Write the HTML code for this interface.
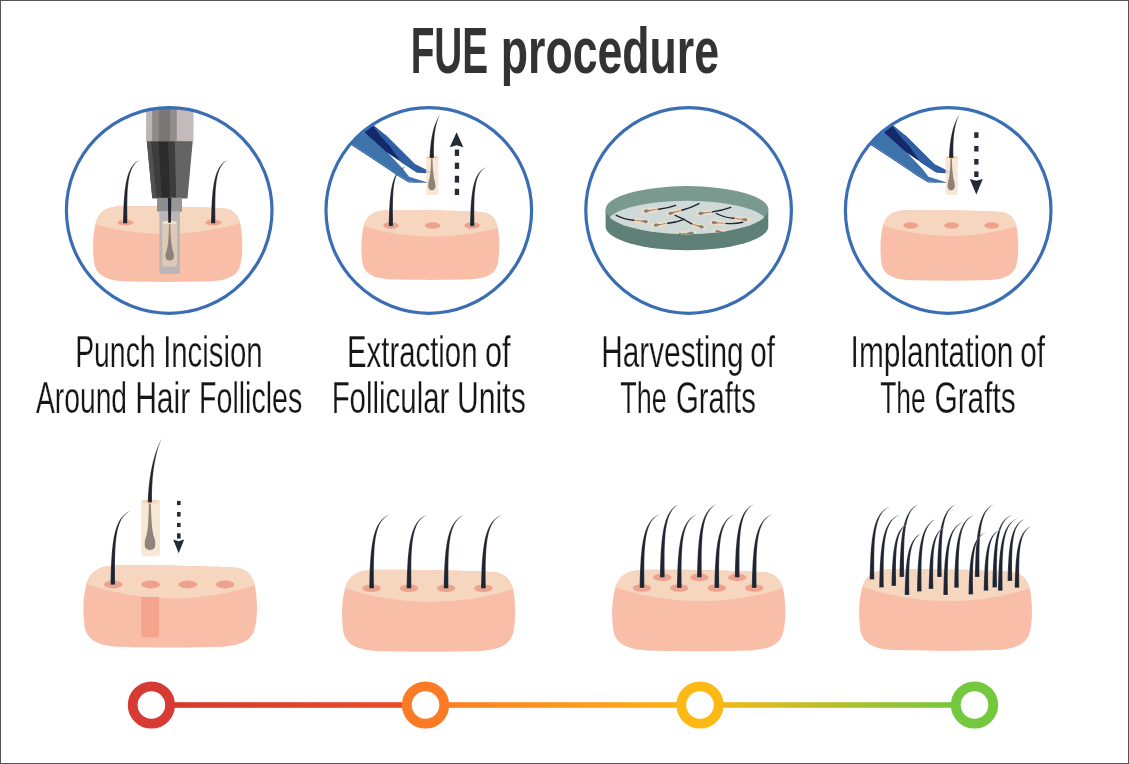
<!DOCTYPE html>
<html><head><meta charset="utf-8"><title>FUE procedure</title>
<style>
html,body{margin:0;padding:0;background:#fff;}
body{width:1129px;height:764px;overflow:hidden;position:relative;font-family:"Liberation Sans",sans-serif;}
.frame{position:absolute;left:0;top:0;width:1127px;height:762px;border:1px solid #555555;}
svg{position:absolute;left:0;top:0;}
</style></head><body>
<svg width="1129" height="764" viewBox="0 0 1129 764"><defs><clipPath id="cc0"><circle cx="169.2" cy="210.5" r="102.8"/></clipPath><clipPath id="cc1"><circle cx="428.8" cy="210.5" r="102.8"/></clipPath><clipPath id="cc2"><circle cx="688.6" cy="210.5" r="102.8"/></clipPath><clipPath id="cc3"><circle cx="948.2" cy="210.5" r="102.8"/></clipPath><clipPath id="blk1"><path d="M 121.3,206.3 C 160.3,205.85 205.3,207.21 224.8,208.57 C 231.55,209.33 238.3,213.87 240.55,225.23 C 242.5,236.58 243.1,251.72 240.55,263.83 C 238.3,274.43 230.8,279.73 212.8,281.24 C 182.8,282.23 145.3,282 122.8,281.24 C 104.8,280.11 95.8,274.43 94,262.32 C 92.35,247.94 92.8,235.07 95.8,222.95 C 98.8,210.84 107.8,206.53 121.3,206.3 Z"/></clipPath><clipPath id="blk2"><path d="M 387.45,210.2 C 423.52,209.78 465.12,211.04 483.16,212.29 C 489.4,212.99 495.64,217.18 497.72,227.65 C 499.52,238.12 500.08,252.08 497.72,263.25 C 495.64,273.02 488.7,277.91 472.06,279.3 C 444.32,280.21 409.65,280 388.84,279.3 C 372.2,278.25 363.87,273.02 362.21,261.85 C 360.68,248.59 361.1,236.72 363.87,225.56 C 366.65,214.39 374.97,210.41 387.45,210.2 Z"/></clipPath><clipPath id="dtop"><ellipse cx="687" cy="209.8" rx="81.3" ry="24.4"/></clipPath><clipPath id="dshift"><ellipse cx="687" cy="224.3" rx="81.3" ry="23.6"/></clipPath><clipPath id="dlow"><rect x="590" y="212.3" width="200" height="40"/></clipPath><clipPath id="blk3"><path d="M 906.53,210.2 C 942.57,209.78 984.15,211.05 1002.17,212.32 C 1008.4,213.02 1014.64,217.26 1016.72,227.85 C 1018.52,238.44 1019.08,252.56 1016.72,263.86 C 1014.64,273.74 1007.71,278.68 991.08,280.09 C 963.36,281.01 928.71,280.8 907.92,280.09 C 891.29,279.04 882.97,273.74 881.31,262.44 C 879.78,249.03 880.2,237.03 882.97,225.73 C 885.74,214.44 894.06,210.41 906.53,210.2 Z"/></clipPath><clipPath id="blk4"><path d="M 116.25,565.4 C 161.62,564.91 213.98,566.39 236.66,567.87 C 244.51,568.69 252.37,573.62 254.98,585.95 C 257.25,598.28 257.95,614.72 254.98,627.87 C 252.37,639.38 243.64,645.13 222.7,646.78 C 187.8,647.85 144.18,647.6 118,646.78 C 97.06,645.55 86.59,639.38 84.5,626.23 C 82.58,610.61 83.1,596.64 86.59,583.48 C 90.08,570.33 100.55,565.65 116.25,565.4 Z"/></clipPath><clipPath id="blk5"><path d="M 374.8,569.8 C 420.09,569.31 472.35,570.78 495,572.26 C 502.83,573.08 510.67,578 513.29,590.3 C 515.55,602.6 516.25,619 513.29,632.12 C 510.67,643.6 501.96,649.34 481.06,650.98 C 446.22,652.05 402.67,651.8 376.54,650.98 C 355.64,649.75 345.18,643.6 343.09,630.48 C 341.18,614.9 341.7,600.96 345.18,587.84 C 348.67,574.72 359.12,570.05 374.8,569.8 Z"/></clipPath><clipPath id="blk6"><path d="M 644.9,569.8 C 690.19,569.31 742.45,570.78 765.1,572.25 C 772.93,573.06 780.77,577.95 783.39,590.17 C 785.65,602.4 786.35,618.7 783.39,631.74 C 780.77,643.15 772.06,648.85 751.16,650.48 C 716.32,651.54 672.77,651.3 646.64,650.48 C 625.74,649.26 615.28,643.15 613.19,630.11 C 611.28,614.62 611.8,600.77 615.28,587.73 C 618.77,574.69 629.22,570.04 644.9,569.8 Z"/></clipPath><clipPath id="blk7"><path d="M 891.82,569.3 C 937.01,568.81 989.15,570.28 1011.74,571.75 C 1019.56,572.56 1027.39,577.46 1029.99,589.7 C 1032.25,601.94 1032.95,618.26 1029.99,631.32 C 1027.39,642.74 1018.7,648.45 997.84,650.08 C 963.08,651.14 919.63,650.9 893.56,650.08 C 872.7,648.86 862.28,642.74 860.19,629.68 C 858.28,614.18 858.8,600.31 862.28,587.25 C 865.75,574.2 876.18,569.54 891.82,569.3 Z"/></clipPath><linearGradient id="tl0" gradientUnits="userSpaceOnUse" x1="171.4" y1="0" x2="405.5" y2="0"><stop offset="0" stop-color="#d5392f"/><stop offset="1" stop-color="#ea4c27"/></linearGradient><linearGradient id="tl1" gradientUnits="userSpaceOnUse" x1="445.5" y1="0" x2="680" y2="0"><stop offset="0" stop-color="#fb7e24"/><stop offset="1" stop-color="#feb116"/></linearGradient><linearGradient id="tl2" gradientUnits="userSpaceOnUse" x1="720" y1="0" x2="954.5" y2="0"><stop offset="0" stop-color="#f3b81a"/><stop offset="1" stop-color="#76c73c"/></linearGradient></defs><g><path d="M 121.3,206.3 C 160.3,205.85 205.3,207.21 224.8,208.57 C 231.55,209.33 238.3,213.87 240.55,225.23 C 242.5,236.58 243.1,251.72 240.55,263.83 C 238.3,274.43 230.8,279.73 212.8,281.24 C 182.8,282.23 145.3,282 122.8,281.24 C 104.8,280.11 95.8,274.43 94,262.32 C 92.35,247.94 92.8,235.07 95.8,222.95 C 98.8,210.84 107.8,206.53 121.3,206.3 Z" fill="#f9bea8"/><path clip-path="url(#blk1)" d="M 87.8,201.3 L 247.8,201.3 L 247.8,222.58 L 242.8,222.58 Q 167.8,244.57 92.8,224.01 L 87.8,224.01 Z" fill="#f7d6bf"/><ellipse cx="125.5" cy="222.5" rx="8" ry="3" fill="#eea28e"/><ellipse cx="213.3" cy="222.5" rx="8" ry="3" fill="#eea28e"/><path d="M127.45,223.5 L127.37,218.77 L127.31,214.25 L127.27,209.91 L127.27,205.78 L127.3,201.83 L127.38,198.07 L127.5,194.5 L127.67,191.11 L127.89,187.91 L128.17,184.88 L128.52,182.03 L128.93,179.35 L129.41,176.85 L129.96,174.51 L130.6,172.34 L131.32,170.32 L132.13,168.47 L133.04,166.76 L134.04,165.2 L135.16,163.78 L136.4,162.5 L137.76,161.36 L139.25,160.36 L140.88,159.5 L140.88,159.5 L139.16,160.2 L137.55,161.05 L136.03,162.07 L134.62,163.26 L133.31,164.62 L132.09,166.14 L130.98,167.84 L129.95,169.71 L129.02,171.75 L128.17,173.96 L127.41,176.34 L126.72,178.89 L126.11,181.62 L125.57,184.52 L125.1,187.59 L124.68,190.85 L124.32,194.28 L124.01,197.89 L123.74,201.69 L123.52,205.67 L123.33,209.84 L123.18,214.2 L123.05,218.75 L122.95,223.5Z" fill="#1e2430" stroke="#fff" stroke-opacity="0.45" stroke-width="0.5"/><path d="M215.45,223.5 L215.37,218.77 L215.31,214.25 L215.27,209.91 L215.27,205.78 L215.3,201.83 L215.38,198.07 L215.5,194.5 L215.67,191.11 L215.89,187.91 L216.17,184.88 L216.52,182.03 L216.93,179.35 L217.41,176.85 L217.96,174.51 L218.6,172.34 L219.32,170.32 L220.13,168.47 L221.04,166.76 L222.04,165.2 L223.16,163.78 L224.4,162.5 L225.76,161.36 L227.25,160.36 L228.88,159.5 L228.88,159.5 L227.16,160.2 L225.55,161.05 L224.03,162.07 L222.62,163.26 L221.31,164.62 L220.09,166.14 L218.98,167.84 L217.95,169.71 L217.02,171.75 L216.17,173.96 L215.41,176.34 L214.72,178.89 L214.11,181.62 L213.57,184.52 L213.1,187.59 L212.68,190.85 L212.32,194.28 L212.01,197.89 L211.74,201.69 L211.52,205.67 L211.33,209.84 L211.18,214.2 L211.05,218.75 L210.95,223.5Z" fill="#1e2430" stroke="#fff" stroke-opacity="0.45" stroke-width="0.5"/><g clip-path="url(#cc0)"><rect x="146.1" y="100" width="6.6" height="41.7" fill="#bdb5b5"/><rect x="152.1" y="100" width="7.4" height="41.7" fill="#8f8989"/><rect x="158.9" y="100" width="11.7" height="41.7" fill="#7a7676"/><rect x="170" y="100" width="7.3" height="41.7" fill="#918b8b"/><rect x="176.7" y="100" width="16.8" height="41.7" fill="#c3bbbb"/><path d="M 146.9,141.5 L 192.1,141.5 L 186.9,198.2 L 152.3,198.2 Z" fill="#3d3d3d"/><path d="M 146.9,141.5 L 151.6,141.5 L 157.2,198.2 L 152.3,198.2 Z" fill="#525252"/><path d="M 151,141.5 L 159.2,141.5 L 162.3,198.2 L 156.6,198.2 Z" fill="#3d3d3d"/><path d="M 158.6,141.5 L 168.6,141.5 L 170.7,198.2 L 161.7,198.2 Z" fill="#2c2c2c"/><path d="M 168,141.5 L 175.4,141.5 L 176.8,198.2 L 170.1,198.2 Z" fill="#3d3d3d"/><path d="M 174.8,141.5 L 192.7,141.5 L 187.5,198.2 L 176.2,198.2 Z" fill="#646464"/></g><rect x="157" y="197.8" width="25" height="13.8" fill="#8e8e8e"/><rect x="169.6" y="197.8" width="12.4" height="13.8" fill="#979797"/><rect x="159.4" y="211.4" width="20.6" height="62.4" fill="#bcb5b7"/><path d="M 162.2,222.5 L 177.1,222.5 L 177.1,263.5 Q 177.1,266.4 174.2,266.4 L 165.1,266.4 Q 162.2,266.4 162.2,263.5 Z" fill="#dccab7"/><ellipse cx="169.65" cy="222.6" rx="7.45" ry="1.8" fill="#f3e3c6"/><path d="M 169.0,224 L 170.4,224 Q 170.6,246 173.6,253 Q 175.2,260.4 169.7,260.6 Q 164.2,260.4 165.8,253 Q 168.8,246 169.0,224 Z" fill="#8f8379"/><path d="M 167.9,198 L 171.3,198 L 170.9,222.8 L 168.3,222.8 Z" fill="#1e2430"/></g><path d="M 387.45,210.2 C 423.52,209.78 465.12,211.04 483.16,212.29 C 489.4,212.99 495.64,217.18 497.72,227.65 C 499.52,238.12 500.08,252.08 497.72,263.25 C 495.64,273.02 488.7,277.91 472.06,279.3 C 444.32,280.21 409.65,280 388.84,279.3 C 372.2,278.25 363.87,273.02 362.21,261.85 C 360.68,248.59 361.1,236.72 363.87,225.56 C 366.65,214.39 374.97,210.41 387.45,210.2 Z" fill="#f9bea8"/><path clip-path="url(#blk2)" d="M 356.1,205.2 L 504.8,205.2 L 504.8,227.16 L 499.8,227.16 Q 430.45,246.88 361.1,225.42 L 356.1,225.42 Z" fill="#f7d6bf"/><ellipse cx="390.9" cy="225.5" rx="7.7" ry="3.3" fill="#eea28e"/><ellipse cx="432.6" cy="225.5" rx="7.7" ry="3.3" fill="#eea28e"/><ellipse cx="472.2" cy="225.5" rx="7.7" ry="3.3" fill="#eea28e"/><path d="M393.15,226.2 L393.06,222.01 L392.99,217.99 L392.94,214.15 L392.91,210.48 L392.9,206.98 L392.93,203.65 L392.98,200.47 L393.07,197.47 L393.2,194.62 L393.37,191.93 L393.58,189.4 L393.84,187.02 L394.15,184.79 L394.51,182.71 L394.93,180.77 L395.4,178.98 L395.94,177.32 L396.55,175.8 L397.23,174.4 L397.99,173.13 L398.83,171.99 L399.76,170.96 L400.78,170.04 L401.91,169.24 L401.91,169.24 L400.68,169.89 L399.51,170.67 L398.41,171.6 L397.39,172.68 L396.44,173.91 L395.55,175.28 L394.74,176.81 L393.99,178.48 L393.31,180.3 L392.68,182.27 L392.12,184.38 L391.62,186.65 L391.16,189.07 L390.76,191.65 L390.4,194.38 L390.08,197.26 L389.8,200.3 L389.55,203.51 L389.34,206.87 L389.16,210.4 L389,214.1 L388.87,217.96 L388.75,221.99 L388.65,226.2Z" fill="#1e2430" stroke="#fff" stroke-opacity="0.45" stroke-width="0.5"/><path d="M474.45,226.2 L474.37,221.84 L474.3,217.66 L474.26,213.67 L474.26,209.85 L474.28,206.21 L474.34,202.74 L474.45,199.45 L474.6,196.32 L474.8,193.37 L475.05,190.58 L475.36,187.95 L475.74,185.48 L476.18,183.17 L476.69,181.01 L477.27,179 L477.93,177.15 L478.68,175.43 L479.51,173.85 L480.44,172.41 L481.48,171.09 L482.62,169.9 L483.88,168.84 L485.27,167.91 L486.78,167.1 L486.78,167.1 L485.18,167.74 L483.67,168.53 L482.26,169.47 L480.94,170.57 L479.71,171.82 L478.57,173.23 L477.52,174.8 L476.56,176.53 L475.69,178.41 L474.9,180.46 L474.18,182.66 L473.54,185.02 L472.96,187.53 L472.45,190.21 L472,193.05 L471.61,196.06 L471.27,199.23 L470.97,202.57 L470.72,206.07 L470.51,209.75 L470.33,213.6 L470.18,217.62 L470.05,221.82 L469.95,226.2Z" fill="#1e2430" stroke="#fff" stroke-opacity="0.45" stroke-width="0.5"/><g transform="translate(0,0)"><g clip-path="url(#cc1)"><path d="M 340,150 L 364.6,132.4 L 386.9,152 L 402.7,168.6 L 409.1,176.8 L 429.2,182.9 L 408.6,181.6 L 396.8,173.9 L 390.8,169.7 L 364,152 L 350,143 Z" fill="#3e72ab"/><path d="M 350,143 L 364,152 L 390.8,169.7 L 396.8,173.9 L 408.6,181.6 L 429.2,182.9 L 408.6,182.6 L 396.3,175 L 390.3,170.7 L 363.5,153 L 350,144.2 Z" fill="#2a5c9c"/><path d="M 350,105.8 L 385.5,135 L 415,164.4 L 426.2,170 L 437.4,173.6 L 426.2,172.7 L 416.8,172.1 L 400.7,161.6 L 386.5,152 L 364.6,132.4 L 350,120 Z" fill="#2f5ea3"/><path d="M 350,110 L 364.6,132.4 L 386.5,152 L 400.7,161.6 L 390.1,146.5 L 379.6,135 L 373.1,125.9 L 356,104 Z" fill="#13296b"/><path d="M 400.7,161.6 L 416.8,172.1 L 426.2,172.7" fill="none" stroke="#1b4690" stroke-width="0.9"/><path d="M 385.5,135 L 415,164.4 L 426.2,170" fill="none" stroke="#1f4f98" stroke-width="0.7"/></g><rect x="426.2" y="156.5" width="12.3" height="38.5" rx="2.2" fill="#f7e3cd" fill-opacity="0.85"/><ellipse cx="432.35" cy="157.4" rx="6.1" ry="1.5" fill="#f1d3b2"/><path d="M 431.1,158.5 L 432.5,158.5 Q 432.8,176 435.0,182 Q 436.8,190.2 431.8,190.4 Q 426.8,190.2 428.6,182 Q 430.8,176 431.1,158.5 Z" fill="#8d8379"/></g><path d="M434.05,158 L433.97,155.42 L433.92,152.91 L433.91,150.48 L433.92,148.12 L433.96,145.84 L434.03,143.62 L434.13,141.48 L434.26,139.4 L434.42,137.4 L434.61,135.45 L434.82,133.57 L435.07,131.76 L435.34,130 L435.64,128.3 L435.96,126.66 L436.32,125.08 L436.7,123.55 L437.1,122.07 L437.54,120.65 L438,119.27 L438.49,117.94 L439,116.66 L439.54,115.42 L440.11,114.22 L440.11,114.22 L439.38,115.33 L438.67,116.49 L437.97,117.7 L437.31,118.97 L436.66,120.3 L436.04,121.69 L435.45,123.14 L434.88,124.65 L434.33,126.22 L433.82,127.86 L433.32,129.56 L432.86,131.32 L432.42,133.15 L432.02,135.05 L431.64,137.02 L431.28,139.06 L430.96,141.16 L430.67,143.34 L430.41,145.6 L430.17,147.92 L429.97,150.33 L429.8,152.81 L429.66,155.36 L429.55,158Z" fill="#1e2430" stroke="#fff" stroke-opacity="0.45" stroke-width="0.5"/><g fill="#232b38"><path d="M 449.8,147.2 L 456.6,132.3 L 463.4,147.2 L 456.6,145.3 Z"/><rect x="454.8" y="149.5" width="4.3" height="6.4"/><rect x="454.8" y="162.7" width="4.3" height="6.2"/><rect x="454.8" y="175.8" width="4.3" height="6.8"/><rect x="454.8" y="188.8" width="4.3" height="6.2"/></g><path d="M 402.2,169.2 L 404.2,167.2" stroke="#1e2430" stroke-width="0.8" stroke-linecap="round"/><path d="M 605.6,209.5 L 605.6,226.5 A 81.3 23.7 0 0 0 768.3,226.5 L 768.3,209.5 Z" fill="#5e8076"/><ellipse cx="687" cy="209.5" rx="81.4" ry="23.4" fill="#7a998f"/><g clip-path="url(#dtop)"><ellipse cx="687" cy="224.3" rx="81.3" ry="23.6" fill="#cfdad8"/></g><g clip-path="url(#dtop)"><g clip-path="url(#dshift)"><g transform="translate(643.01 211.44) rotate(-8.3)"><rect x="-1.2" y="-2.5" width="16.75" height="5" rx="1.6" fill="#f0dcc4"/><path d="M 0.9,0 C 0.9,-1.9 3.4,-1.8 4.6,-1.2 Q 6.0,-0.5 8.0,-0.45 L 14.05,-0.4 L 14.05,0.4 L 8.0,0.45 Q 6.0,0.5 4.6,1.2 C 3.4,1.8 0.9,1.9 0.9,0 Z" fill="#8a7f75"/><rect x="14.25" y="-2.5" width="1.1" height="5" fill="#f2c9a2"/></g><path d="M 658.4,209.2 Q 668,208.2 675.6,205.3" stroke="#1e2430" stroke-width="1.4" fill="none" stroke-linecap="round"/><g transform="translate(667.63 214.06) rotate(-15.15)"><rect x="-1.2" y="-2.5" width="15.98" height="5" rx="1.6" fill="#f0dcc4"/><path d="M 0.9,0 C 0.9,-1.9 3.4,-1.8 4.6,-1.2 Q 6.0,-0.5 8.0,-0.45 L 13.28,-0.4 L 13.28,0.4 L 8.0,0.45 Q 6.0,0.5 4.6,1.2 C 3.4,1.8 0.9,1.9 0.9,0 Z" fill="#8a7f75"/><rect x="13.48" y="-2.5" width="1.1" height="5" fill="#f2c9a2"/></g><path d="M 681.9,210.2 Q 691,207.8 699,203.6" stroke="#1e2430" stroke-width="1.4" fill="none" stroke-linecap="round"/><g transform="translate(697.61 213.83) rotate(-7.43)"><rect x="-1.2" y="-2.5" width="16.12" height="5" rx="1.6" fill="#f0dcc4"/><path d="M 0.9,0 C 0.9,-1.9 3.4,-1.8 4.6,-1.2 Q 6.0,-0.5 8.0,-0.45 L 13.42,-0.4 L 13.42,0.4 L 8.0,0.45 Q 6.0,0.5 4.6,1.2 C 3.4,1.8 0.9,1.9 0.9,0 Z" fill="#8a7f75"/><rect x="13.62" y="-2.5" width="1.1" height="5" fill="#f2c9a2"/></g><path d="M 712.4,211.9 Q 722,210.6 730.8,207.4" stroke="#1e2430" stroke-width="1.4" fill="none" stroke-linecap="round"/><g transform="translate(648.59 221.92) rotate(-173.34)"><rect x="-1.2" y="-2.5" width="15.99" height="5" rx="1.6" fill="#f0dcc4"/><path d="M 0.9,0 C 0.9,-1.9 3.4,-1.8 4.6,-1.2 Q 6.0,-0.5 8.0,-0.45 L 13.29,-0.4 L 13.29,0.4 L 8.0,0.45 Q 6.0,0.5 4.6,1.2 C 3.4,1.8 0.9,1.9 0.9,0 Z" fill="#8a7f75"/><rect x="13.49" y="-2.5" width="1.1" height="5" fill="#f2c9a2"/></g><path d="M 633.9,220.2 Q 624,219.2 616.2,215.3" stroke="#1e2430" stroke-width="1.4" fill="none" stroke-linecap="round"/><g transform="translate(653.01 225.67) rotate(-9.53)"><rect x="-1.2" y="-2.5" width="16.09" height="5" rx="1.6" fill="#f0dcc4"/><path d="M 0.9,0 C 0.9,-1.9 3.4,-1.8 4.6,-1.2 Q 6.0,-0.5 8.0,-0.45 L 13.39,-0.4 L 13.39,0.4 L 8.0,0.45 Q 6.0,0.5 4.6,1.2 C 3.4,1.8 0.9,1.9 0.9,0 Z" fill="#8a7f75"/><rect x="13.59" y="-2.5" width="1.1" height="5" fill="#f2c9a2"/></g><path d="M 667.7,223.2 Q 676,222.4 684.4,219.3" stroke="#1e2430" stroke-width="1.4" fill="none" stroke-linecap="round"/><g transform="translate(704.46 227.79) rotate(-163.03)"><rect x="-1.2" y="-2.5" width="14.54" height="5" rx="1.6" fill="#f0dcc4"/><path d="M 0.9,0 C 0.9,-1.9 3.4,-1.8 4.6,-1.2 Q 6.0,-0.5 8.0,-0.45 L 11.84,-0.4 L 11.84,0.4 L 8.0,0.45 Q 6.0,0.5 4.6,1.2 C 3.4,1.8 0.9,1.9 0.9,0 Z" fill="#8a7f75"/><rect x="12.04" y="-2.5" width="1.1" height="5" fill="#f2c9a2"/></g><path d="M 691.7,223.9 Q 683,218.3 675.1,215.3" stroke="#1e2430" stroke-width="1.4" fill="none" stroke-linecap="round"/><g transform="translate(748.29 220.13) rotate(-172.72)"><rect x="-1.2" y="-2.5" width="15.61" height="5" rx="1.6" fill="#f0dcc4"/><path d="M 0.9,0 C 0.9,-1.9 3.4,-1.8 4.6,-1.2 Q 6.0,-0.5 8.0,-0.45 L 12.91,-0.4 L 12.91,0.4 L 8.0,0.45 Q 6.0,0.5 4.6,1.2 C 3.4,1.8 0.9,1.9 0.9,0 Z" fill="#8a7f75"/><rect x="13.11" y="-2.5" width="1.1" height="5" fill="#f2c9a2"/></g><path d="M 734,218.3 Q 724,217.6 716.4,213.5" stroke="#1e2430" stroke-width="1.4" fill="none" stroke-linecap="round"/><g transform="translate(711 222.33) rotate(4.09)"><rect x="-1.2" y="-2.5" width="16.24" height="5" rx="1.6" fill="#f0dcc4"/><path d="M 0.9,0 C 0.9,-1.9 3.4,-1.8 4.6,-1.2 Q 6.0,-0.5 8.0,-0.45 L 13.54,-0.4 L 13.54,0.4 L 8.0,0.45 Q 6.0,0.5 4.6,1.2 C 3.4,1.8 0.9,1.9 0.9,0 Z" fill="#8a7f75"/><rect x="13.74" y="-2.5" width="1.1" height="5" fill="#f2c9a2"/></g><path d="M 726,223.4 Q 735,224.2 742.7,222.3" stroke="#1e2430" stroke-width="1.4" fill="none" stroke-linecap="round"/><g transform="translate(694.5 233.17) rotate(178.3)"><rect x="-1.2" y="-2.5" width="15.71" height="5" rx="1.6" fill="#f0dcc4"/><path d="M 0.9,0 C 0.9,-1.9 3.4,-1.8 4.6,-1.2 Q 6.0,-0.5 8.0,-0.45 L 13.01,-0.4 L 13.01,0.4 L 8.0,0.45 Q 6.0,0.5 4.6,1.2 C 3.4,1.8 0.9,1.9 0.9,0 Z" fill="#8a7f75"/><rect x="13.21" y="-2.5" width="1.1" height="5" fill="#f2c9a2"/></g><path d="M 680,233.6 Q 680,233.6 680,233.6" stroke="#1e2430" stroke-width="1.4" fill="none" stroke-linecap="round"/><g transform="translate(714.5 231.41) rotate(5.03)"><rect x="-1.2" y="-2.5" width="14.75" height="5" rx="1.6" fill="#f0dcc4"/><path d="M 0.9,0 C 0.9,-1.9 3.4,-1.8 4.6,-1.2 Q 6.0,-0.5 8.0,-0.45 L 12.05,-0.4 L 12.05,0.4 L 8.0,0.45 Q 6.0,0.5 4.6,1.2 C 3.4,1.8 0.9,1.9 0.9,0 Z" fill="#8a7f75"/><rect x="12.25" y="-2.5" width="1.1" height="5" fill="#f2c9a2"/></g><path d="M 728,232.6 Q 728,232.6 728,232.6" stroke="#1e2430" stroke-width="1.4" fill="none" stroke-linecap="round"/></g></g><path d="M 906.53,210.2 C 942.57,209.78 984.15,211.05 1002.17,212.32 C 1008.4,213.02 1014.64,217.26 1016.72,227.85 C 1018.52,238.44 1019.08,252.56 1016.72,263.86 C 1014.64,273.74 1007.71,278.68 991.08,280.09 C 963.36,281.01 928.71,280.8 907.92,280.09 C 891.29,279.04 882.97,273.74 881.31,262.44 C 879.78,249.03 880.2,237.03 882.97,225.73 C 885.74,214.44 894.06,210.41 906.53,210.2 Z" fill="#f9bea8"/><path clip-path="url(#blk3)" d="M 875.2,205.2 L 1023.8,205.2 L 1023.8,225.52 L 1018.8,225.52 Q 949.5,247.05 880.2,224.81 L 875.2,224.81 Z" fill="#f7d6bf"/><ellipse cx="910.7" cy="225.5" rx="7.4" ry="3.2" fill="#eea28e"/><ellipse cx="951.5" cy="225.5" rx="7.4" ry="3.2" fill="#eea28e"/><ellipse cx="991.6" cy="225.5" rx="7.4" ry="3.2" fill="#eea28e"/><g transform="translate(519.4,0)"><g clip-path="url(#cc1)"><path d="M 340,150 L 364.6,132.4 L 386.9,152 L 402.7,168.6 L 409.1,176.8 L 429.2,182.9 L 408.6,181.6 L 396.8,173.9 L 390.8,169.7 L 364,152 L 350,143 Z" fill="#3e72ab"/><path d="M 350,143 L 364,152 L 390.8,169.7 L 396.8,173.9 L 408.6,181.6 L 429.2,182.9 L 408.6,182.6 L 396.3,175 L 390.3,170.7 L 363.5,153 L 350,144.2 Z" fill="#2a5c9c"/><path d="M 350,105.8 L 385.5,135 L 415,164.4 L 426.2,170 L 437.4,173.6 L 426.2,172.7 L 416.8,172.1 L 400.7,161.6 L 386.5,152 L 364.6,132.4 L 350,120 Z" fill="#2f5ea3"/><path d="M 350,110 L 364.6,132.4 L 386.5,152 L 400.7,161.6 L 390.1,146.5 L 379.6,135 L 373.1,125.9 L 356,104 Z" fill="#13296b"/><path d="M 400.7,161.6 L 416.8,172.1 L 426.2,172.7" fill="none" stroke="#1b4690" stroke-width="0.9"/><path d="M 385.5,135 L 415,164.4 L 426.2,170" fill="none" stroke="#1f4f98" stroke-width="0.7"/></g><rect x="426.2" y="156.5" width="12.3" height="38.5" rx="2.2" fill="#f7e3cd" fill-opacity="0.85"/><ellipse cx="432.35" cy="157.4" rx="6.1" ry="1.5" fill="#f1d3b2"/><path d="M 431.1,158.5 L 432.5,158.5 Q 432.8,176 435.0,182 Q 436.8,190.2 431.8,190.4 Q 426.8,190.2 428.6,182 Q 430.8,176 431.1,158.5 Z" fill="#8d8379"/></g><path d="M953.45,158 L953.37,155.42 L953.32,152.91 L953.31,150.48 L953.32,148.12 L953.36,145.84 L953.43,143.62 L953.53,141.48 L953.66,139.4 L953.82,137.4 L954.01,135.45 L954.22,133.57 L954.47,131.76 L954.74,130 L955.04,128.3 L955.36,126.66 L955.72,125.08 L956.1,123.55 L956.5,122.07 L956.94,120.65 L957.4,119.27 L957.89,117.94 L958.4,116.66 L958.94,115.42 L959.51,114.22 L959.51,114.22 L958.78,115.33 L958.07,116.49 L957.37,117.7 L956.71,118.97 L956.06,120.3 L955.44,121.69 L954.85,123.14 L954.28,124.65 L953.73,126.22 L953.22,127.86 L952.72,129.56 L952.26,131.32 L951.82,133.15 L951.42,135.05 L951.04,137.02 L950.68,139.06 L950.36,141.16 L950.07,143.34 L949.81,145.6 L949.57,147.92 L949.37,150.33 L949.2,152.81 L949.06,155.36 L948.95,158Z" fill="#1e2430" stroke="#fff" stroke-opacity="0.45" stroke-width="0.5"/><g fill="#232b38"><path d="M 969.8,178.9 L 976.3,180.8 L 982.8,178.9 L 976.3,194.4 Z"/><rect x="974.2" y="132.3" width="4.3" height="5.6"/><rect x="974.2" y="146" width="4.3" height="5.5"/><rect x="974.2" y="159" width="4.3" height="5.6"/><rect x="974.2" y="171.4" width="4.3" height="5.6"/></g><circle cx="169.2" cy="210.5" r="102.8" fill="none" stroke="#3a6db3" stroke-width="3.2"/><circle cx="428.8" cy="210.5" r="102.8" fill="none" stroke="#3a6db3" stroke-width="3.2"/><circle cx="688.6" cy="210.5" r="102.8" fill="none" stroke="#3a6db3" stroke-width="3.2"/><circle cx="948.2" cy="210.5" r="102.8" fill="none" stroke="#3a6db3" stroke-width="3.2"/><path d="M 116.25,565.4 C 161.62,564.91 213.98,566.39 236.66,567.87 C 244.51,568.69 252.37,573.62 254.98,585.95 C 257.25,598.28 257.95,614.72 254.98,627.87 C 252.37,639.38 243.64,645.13 222.7,646.78 C 187.8,647.85 144.18,647.6 118,646.78 C 97.06,645.55 86.59,639.38 84.5,626.23 C 82.58,610.61 83.1,596.64 86.59,583.48 C 90.08,570.33 100.55,565.65 116.25,565.4 Z" fill="#f9bea8"/><path clip-path="url(#blk4)" d="M 78.1,560.4 L 262.6,560.4 L 262.6,584.8 L 257.6,584.8 Q 170.35,612.95 83.1,583.07 L 78.1,583.07 Z" fill="#f7d6bf"/><ellipse cx="113.2" cy="584.5" rx="9.3" ry="3.9" fill="#eea28e"/><ellipse cx="150.7" cy="584.5" rx="9.3" ry="3.9" fill="#eea28e"/><ellipse cx="187.8" cy="584.5" rx="9.3" ry="3.9" fill="#eea28e"/><ellipse cx="225.1" cy="584.5" rx="9.3" ry="3.9" fill="#eea28e"/><path d="M 141.1,597 L 159.1,597 L 159.1,634.5 Q 159.1,637.5 156.1,637.5 L 144.1,637.5 Q 141.1,637.5 141.1,634.5 Z" fill="#f5a48d"/><path d="M115.15,584.8 L115.06,579.33 L115,574.08 L114.98,569.07 L114.98,564.27 L115.03,559.7 L115.13,555.35 L115.28,551.21 L115.49,547.29 L115.75,543.58 L116.09,540.07 L116.49,536.77 L116.97,533.67 L117.53,530.78 L118.18,528.07 L118.92,525.56 L119.76,523.23 L120.7,521.08 L121.75,519.12 L122.91,517.32 L124.2,515.69 L125.63,514.22 L127.19,512.92 L128.91,511.78 L130.78,510.8 L130.78,510.8 L128.82,511.61 L126.97,512.6 L125.25,513.77 L123.64,515.15 L122.15,516.71 L120.76,518.48 L119.49,520.44 L118.33,522.59 L117.27,524.95 L116.31,527.5 L115.45,530.25 L114.67,533.2 L113.98,536.35 L113.37,539.7 L112.83,543.26 L112.36,547.02 L111.96,550.99 L111.61,555.17 L111.32,559.56 L111.07,564.17 L110.86,568.99 L110.7,574.04 L110.56,579.31 L110.45,584.8Z" fill="#1e2430" stroke="#fff" stroke-opacity="0.45" stroke-width="0.5"/><rect x="141.2" y="500" width="18.8" height="56.3" rx="3.2" fill="#f8e7d5"/><ellipse cx="150.6" cy="501.6" rx="9.3" ry="2.1" fill="#f2d6b7"/><path d="M 148.9,503.5 L 150.9,503.5 Q 151.4,532 154.4,538 Q 157.6,549.6 150.0,549.9 Q 142.4,549.6 145.6,538 Q 148.5,532 148.9,503.5 Z" fill="#8f8479"/><path d="M152.05,502.5 L151.99,499.03 L151.97,495.61 L152.01,492.27 L152.09,488.99 L152.22,485.77 L152.4,482.63 L152.62,479.55 L152.88,476.53 L153.19,473.59 L153.53,470.72 L153.91,467.91 L154.33,465.18 L154.79,462.52 L155.28,459.93 L155.8,457.42 L156.36,454.97 L156.94,452.61 L157.56,450.31 L158.2,448.1 L158.87,445.95 L159.57,443.89 L160.29,441.9 L161.04,439.99 L161.8,438.16 L161.8,438.16 L160.87,439.92 L159.96,441.76 L159.07,443.69 L158.2,445.71 L157.36,447.8 L156.54,449.98 L155.74,452.25 L154.98,454.59 L154.24,457.02 L153.53,459.52 L152.86,462.11 L152.22,464.77 L151.62,467.51 L151.05,470.32 L150.53,473.21 L150.04,476.18 L149.59,479.22 L149.19,482.33 L148.83,485.51 L148.52,488.77 L148.25,492.1 L148.03,495.5 L147.87,498.96 L147.75,502.5Z" fill="#1e2430" stroke="#fff" stroke-opacity="0.45" stroke-width="0.5"/><g fill="#232b38"><rect x="177.0" y="500.9" width="3.6" height="4.2"/><rect x="177.0" y="512" width="3.6" height="4.6"/><rect x="177.0" y="522.9" width="3.6" height="4.1"/><rect x="177.0" y="533.3" width="3.6" height="5.3"/><path d="M 173.2,539.6 L 178.7,541.3 L 184.2,539.6 L 178.7,553.2 Z"/></g><path d="M 374.8,569.8 C 420.09,569.31 472.35,570.78 495,572.26 C 502.83,573.08 510.67,578 513.29,590.3 C 515.55,602.6 516.25,619 513.29,632.12 C 510.67,643.6 501.96,649.34 481.06,650.98 C 446.22,652.05 402.67,651.8 376.54,650.98 C 355.64,649.75 345.18,643.6 343.09,630.48 C 341.18,614.9 341.7,600.96 345.18,587.84 C 348.67,574.72 359.12,570.05 374.8,569.8 Z" fill="#f9bea8"/><path clip-path="url(#blk5)" d="M 336.7,564.8 L 520.9,564.8 L 520.9,588.5 L 515.9,588.5 Q 428.8,616.05 341.7,587.18 L 336.7,587.18 Z" fill="#f7d6bf"/><ellipse cx="371.6" cy="588.2" rx="9.2" ry="3.8" fill="#eea28e"/><ellipse cx="409" cy="588.2" rx="9.2" ry="3.8" fill="#eea28e"/><ellipse cx="446.1" cy="588.2" rx="9.2" ry="3.8" fill="#eea28e"/><ellipse cx="483.4" cy="588.2" rx="9.2" ry="3.8" fill="#eea28e"/><path d="M374.05,588.6 L373.96,583.14 L373.89,577.91 L373.86,572.91 L373.86,568.13 L373.91,563.57 L374,559.23 L374.14,555.11 L374.33,551.2 L374.59,547.49 L374.91,544 L375.3,540.71 L375.77,537.62 L376.32,534.73 L376.95,532.03 L377.67,529.53 L378.49,527.2 L379.4,525.06 L380.43,523.1 L381.57,521.31 L382.83,519.68 L384.22,518.22 L385.76,516.92 L387.44,515.77 L389.28,514.79 L389.28,514.79 L387.34,515.59 L385.53,516.58 L383.83,517.75 L382.24,519.12 L380.76,520.68 L379.4,522.44 L378.14,524.4 L376.99,526.55 L375.94,528.9 L374.99,531.44 L374.14,534.19 L373.37,537.13 L372.68,540.27 L372.08,543.62 L371.54,547.16 L371.08,550.92 L370.67,554.88 L370.33,559.05 L370.03,563.43 L369.78,568.02 L369.57,572.84 L369.4,577.87 L369.26,583.12 L369.15,588.6Z" fill="#1e2430" stroke="#fff" stroke-opacity="0.45" stroke-width="0.5"/><path d="M411.45,588.6 L411.36,583.14 L411.3,577.91 L411.26,572.91 L411.27,568.13 L411.31,563.57 L411.41,559.23 L411.55,555.11 L411.75,551.2 L412.01,547.5 L412.34,544 L412.74,540.71 L413.22,537.63 L413.78,534.74 L414.42,532.04 L415.16,529.53 L415.99,527.21 L416.93,525.07 L417.97,523.11 L419.13,521.32 L420.42,519.69 L421.84,518.23 L423.4,516.92 L425.11,515.78 L426.98,514.8 L426.98,514.8 L425.02,515.6 L423.17,516.59 L421.44,517.76 L419.83,519.12 L418.33,520.68 L416.94,522.44 L415.67,524.4 L414.5,526.55 L413.43,528.9 L412.47,531.44 L411.6,534.18 L410.82,537.13 L410.13,540.27 L409.51,543.61 L408.97,547.16 L408.5,550.91 L408.09,554.87 L407.74,559.04 L407.44,563.43 L407.19,568.02 L406.98,572.84 L406.8,577.87 L406.66,583.12 L406.55,588.6Z" fill="#1e2430" stroke="#fff" stroke-opacity="0.45" stroke-width="0.5"/><path d="M448.55,588.6 L448.46,583.14 L448.4,577.92 L448.37,572.91 L448.37,568.13 L448.42,563.58 L448.52,559.24 L448.67,555.11 L448.88,551.2 L449.15,547.5 L449.49,544.01 L449.9,540.72 L450.39,537.63 L450.96,534.74 L451.62,532.05 L452.38,529.54 L453.23,527.22 L454.19,525.08 L455.26,523.12 L456.45,521.33 L457.76,519.7 L459.22,518.24 L460.82,516.93 L462.57,515.79 L464.49,514.81 L464.49,514.81 L462.48,515.61 L460.59,516.59 L458.83,517.76 L457.18,519.13 L455.65,520.69 L454.24,522.44 L452.94,524.39 L451.74,526.54 L450.66,528.89 L449.67,531.44 L448.79,534.18 L447.99,537.12 L447.28,540.27 L446.66,543.61 L446.11,547.16 L445.62,550.91 L445.21,554.87 L444.85,559.04 L444.55,563.42 L444.29,568.02 L444.08,572.83 L443.91,577.87 L443.76,583.12 L443.65,588.6Z" fill="#1e2430" stroke="#fff" stroke-opacity="0.45" stroke-width="0.5"/><path d="M485.85,588.6 L485.76,583.14 L485.7,577.92 L485.67,572.91 L485.68,568.14 L485.73,563.58 L485.83,559.24 L485.99,555.12 L486.2,551.21 L486.48,547.51 L486.83,544.01 L487.25,540.73 L487.76,537.64 L488.34,534.75 L489.02,532.06 L489.8,529.55 L490.67,527.23 L491.65,525.09 L492.75,523.13 L493.96,521.34 L495.31,519.71 L496.8,518.25 L498.44,516.94 L500.23,515.8 L502.19,514.82 L502.19,514.82 L500.14,515.62 L498.22,516.6 L496.42,517.77 L494.74,519.13 L493.18,520.69 L491.73,522.44 L490.41,524.39 L489.19,526.54 L488.08,528.89 L487.08,531.43 L486.17,534.18 L485.36,537.12 L484.64,540.26 L484,543.61 L483.44,547.15 L482.95,550.91 L482.53,554.87 L482.16,559.04 L481.85,563.42 L481.6,568.02 L481.38,572.83 L481.21,577.87 L481.06,583.12 L480.95,588.6Z" fill="#1e2430" stroke="#fff" stroke-opacity="0.45" stroke-width="0.5"/><path d="M 644.9,569.8 C 690.19,569.31 742.45,570.78 765.1,572.25 C 772.93,573.06 780.77,577.95 783.39,590.17 C 785.65,602.4 786.35,618.7 783.39,631.74 C 780.77,643.15 772.06,648.85 751.16,650.48 C 716.32,651.54 672.77,651.3 646.64,650.48 C 625.74,649.26 615.28,643.15 613.19,630.11 C 611.28,614.62 611.8,600.77 615.28,587.73 C 618.77,574.69 629.22,570.04 644.9,569.8 Z" fill="#f9bea8"/><path clip-path="url(#blk6)" d="M 606.8,564.8 L 791,564.8 L 791,587.32 L 786,587.32 Q 698.9,615.44 611.8,586.51 L 606.8,586.51 Z" fill="#f7d6bf"/><ellipse cx="662.3" cy="577.4" rx="9.2" ry="3.8" fill="#eea28e"/><ellipse cx="699.4" cy="577.4" rx="9.2" ry="3.8" fill="#eea28e"/><ellipse cx="737.2" cy="577.4" rx="9.2" ry="3.8" fill="#eea28e"/><ellipse cx="642" cy="588" rx="9.2" ry="3.8" fill="#eea28e"/><ellipse cx="679.3" cy="588" rx="9.2" ry="3.8" fill="#eea28e"/><ellipse cx="716.8" cy="588" rx="9.2" ry="3.8" fill="#eea28e"/><ellipse cx="754.2" cy="588" rx="9.2" ry="3.8" fill="#eea28e"/><path d="M664.75,577.5 L664.66,572.04 L664.6,566.8 L664.56,561.79 L664.57,557 L664.61,552.44 L664.7,548.09 L664.85,543.96 L665.05,540.05 L665.31,536.34 L665.63,532.84 L666.03,529.55 L666.5,526.45 L667.06,523.56 L667.7,520.86 L668.43,518.35 L669.26,516.03 L670.19,513.88 L671.22,511.92 L672.38,510.12 L673.65,508.49 L675.07,507.03 L676.62,505.72 L678.32,504.58 L680.18,503.59 L680.18,503.59 L678.23,504.4 L676.39,505.38 L674.67,506.56 L673.07,507.93 L671.57,509.49 L670.19,511.25 L668.92,513.21 L667.76,515.36 L666.7,517.72 L665.74,520.26 L664.88,523.01 L664.1,525.96 L663.41,529.1 L662.8,532.45 L662.26,536.01 L661.79,539.76 L661.38,543.73 L661.03,547.9 L660.73,552.29 L660.48,556.89 L660.28,561.71 L660.1,566.75 L659.96,572.01 L659.85,577.5Z" fill="#1e2430" stroke="#fff" stroke-opacity="0.45" stroke-width="0.5"/><path d="M701.85,577.5 L701.76,572.04 L701.7,566.8 L701.67,561.79 L701.68,557.01 L701.73,552.44 L701.83,548.1 L701.98,543.97 L702.19,540.05 L702.47,536.35 L702.81,532.85 L703.23,529.56 L703.72,526.47 L704.3,523.57 L704.97,520.87 L705.74,518.37 L706.6,516.04 L707.57,513.9 L708.65,511.93 L709.86,510.14 L711.19,508.51 L712.66,507.05 L714.28,505.74 L716.05,504.6 L717.99,503.62 L717.99,503.62 L715.96,504.42 L714.06,505.4 L712.27,506.57 L710.61,507.93 L709.07,509.49 L707.64,511.25 L706.32,513.21 L705.12,515.36 L704.02,517.71 L703.03,520.26 L702.13,523.01 L701.33,525.95 L700.61,529.1 L699.98,532.45 L699.42,536 L698.94,539.76 L698.52,543.72 L698.16,547.9 L697.85,552.29 L697.59,556.89 L697.38,561.71 L697.21,566.75 L697.06,572.01 L696.95,577.5Z" fill="#1e2430" stroke="#fff" stroke-opacity="0.45" stroke-width="0.5"/><path d="M739.65,577.5 L739.56,572.04 L739.5,566.8 L739.46,561.79 L739.47,557 L739.51,552.44 L739.6,548.09 L739.75,543.96 L739.95,540.05 L740.21,536.34 L740.53,532.84 L740.93,529.55 L741.4,526.45 L741.96,523.56 L742.6,520.86 L743.33,518.35 L744.16,516.03 L745.09,513.88 L746.12,511.92 L747.28,510.12 L748.55,508.49 L749.97,507.03 L751.52,505.72 L753.22,504.58 L755.08,503.59 L755.08,503.59 L753.13,504.4 L751.29,505.38 L749.57,506.56 L747.97,507.93 L746.47,509.49 L745.09,511.25 L743.82,513.21 L742.66,515.36 L741.6,517.72 L740.64,520.26 L739.78,523.01 L739,525.96 L738.31,529.1 L737.7,532.45 L737.16,536.01 L736.69,539.76 L736.28,543.73 L735.93,547.9 L735.63,552.29 L735.38,556.89 L735.18,561.71 L735,566.75 L734.86,572.01 L734.75,577.5Z" fill="#1e2430" stroke="#fff" stroke-opacity="0.45" stroke-width="0.5"/><path d="M644.45,588 L644.36,582.55 L644.29,577.33 L644.26,572.33 L644.26,567.56 L644.31,563.01 L644.4,558.67 L644.54,554.55 L644.74,550.65 L645,546.95 L645.32,543.46 L645.72,540.18 L646.19,537.09 L646.74,534.21 L647.37,531.51 L648.1,529.01 L648.92,526.69 L649.84,524.56 L650.88,522.59 L652.02,520.8 L653.29,519.18 L654.69,517.72 L656.24,516.42 L657.93,515.27 L659.78,514.29 L659.78,514.29 L657.83,515.09 L656.01,516.08 L654.3,517.25 L652.7,518.62 L651.22,520.17 L649.85,521.93 L648.58,523.88 L647.43,526.03 L646.37,528.38 L645.42,530.92 L644.56,533.66 L643.79,536.6 L643.1,539.74 L642.49,543.08 L641.95,546.62 L641.48,550.37 L641.08,554.32 L640.73,558.48 L640.43,562.86 L640.18,567.45 L639.97,572.26 L639.8,577.28 L639.66,582.53 L639.55,588Z" fill="#1e2430" stroke="#fff" stroke-opacity="0.45" stroke-width="0.5"/><path d="M681.75,588 L681.66,582.55 L681.6,577.33 L681.56,572.33 L681.57,567.56 L681.61,563.01 L681.7,558.67 L681.85,554.56 L682.04,550.65 L682.31,546.95 L682.63,543.46 L683.03,540.18 L683.5,537.09 L684.06,534.21 L684.7,531.51 L685.43,529.01 L686.26,526.69 L687.18,524.56 L688.22,522.6 L689.38,520.81 L690.65,519.18 L692.07,517.72 L693.62,516.42 L695.32,515.28 L697.18,514.3 L697.18,514.3 L695.23,515.1 L693.39,516.08 L691.67,517.25 L690.07,518.62 L688.57,520.18 L687.19,521.93 L685.93,523.88 L684.76,526.03 L683.7,528.38 L682.74,530.92 L681.88,533.66 L681.1,536.6 L680.41,539.74 L679.8,543.08 L679.26,546.62 L678.79,550.37 L678.38,554.32 L678.03,558.48 L677.73,562.86 L677.48,567.45 L677.28,572.26 L677.1,577.28 L676.96,582.53 L676.85,588Z" fill="#1e2430" stroke="#fff" stroke-opacity="0.45" stroke-width="0.5"/><path d="M719.25,588 L719.16,582.55 L719.1,577.33 L719.06,572.33 L719.07,567.56 L719.12,563.01 L719.21,558.68 L719.36,554.56 L719.56,550.65 L719.83,546.96 L720.17,543.47 L720.57,540.18 L721.05,537.1 L721.62,534.21 L722.27,531.52 L723.02,529.02 L723.86,526.7 L724.81,524.57 L725.86,522.6 L727.04,520.81 L728.34,519.19 L729.78,517.73 L731.36,516.43 L733.09,515.29 L734.99,514.31 L734.99,514.31 L733,515.11 L731.13,516.09 L729.39,517.26 L727.76,518.62 L726.24,520.18 L724.84,521.93 L723.55,523.88 L722.37,526.03 L721.3,528.37 L720.32,530.92 L719.44,533.66 L718.66,536.59 L717.96,539.73 L717.33,543.07 L716.79,546.62 L716.31,550.36 L715.9,554.32 L715.54,558.48 L715.24,562.86 L714.99,567.45 L714.78,572.26 L714.6,577.28 L714.46,582.53 L714.35,588Z" fill="#1e2430" stroke="#fff" stroke-opacity="0.45" stroke-width="0.5"/><path d="M756.65,588 L756.56,582.55 L756.5,577.33 L756.46,572.33 L756.47,567.56 L756.51,563.01 L756.61,558.67 L756.75,554.56 L756.95,550.65 L757.21,546.95 L757.54,543.46 L757.94,540.18 L758.42,537.1 L758.98,534.21 L759.62,531.52 L760.36,529.01 L761.19,526.7 L762.13,524.56 L763.17,522.6 L764.33,520.81 L765.62,519.19 L767.04,517.72 L768.6,516.42 L770.31,515.28 L772.18,514.3 L772.18,514.3 L770.22,515.1 L768.37,516.08 L766.64,517.25 L765.03,518.62 L763.53,520.18 L762.14,521.93 L760.87,523.88 L759.7,526.03 L758.64,528.38 L757.67,530.92 L756.8,533.66 L756.02,536.6 L755.33,539.73 L754.71,543.07 L754.17,546.62 L753.7,550.36 L753.29,554.32 L752.94,558.48 L752.64,562.86 L752.39,567.45 L752.18,572.26 L752,577.28 L751.86,582.53 L751.75,588Z" fill="#1e2430" stroke="#fff" stroke-opacity="0.45" stroke-width="0.5"/><path d="M 891.82,569.3 C 937.01,568.81 989.15,570.28 1011.74,571.75 C 1019.56,572.56 1027.39,577.46 1029.99,589.7 C 1032.25,601.94 1032.95,618.26 1029.99,631.32 C 1027.39,642.74 1018.7,648.45 997.84,650.08 C 963.08,651.14 919.63,650.9 893.56,650.08 C 872.7,648.86 862.28,642.74 860.19,629.68 C 858.28,614.18 858.8,600.31 862.28,587.25 C 865.75,574.2 876.18,569.54 891.82,569.3 Z" fill="#f9bea8"/><path clip-path="url(#blk7)" d="M 853.8,564.3 L 1037.6,564.3 L 1037.6,587.25 L 1032.6,587.25 Q 945.7,615.81 858.8,585.62 L 853.8,585.62 Z" fill="#f7d6bf"/><path d="M904.15,577.1 L904.06,571.66 L904,566.46 L903.97,561.47 L903.98,556.71 L904.03,552.17 L904.13,547.85 L904.28,543.74 L904.48,539.85 L904.74,536.16 L905.07,532.68 L905.48,529.4 L905.95,526.32 L906.51,523.44 L907.16,520.76 L907.89,518.26 L908.73,515.95 L909.66,513.82 L910.7,511.86 L911.86,510.08 L913.14,508.46 L914.56,507 L916.11,505.71 L917.82,504.57 L919.68,503.6 L919.68,503.6 L917.73,504.4 L915.9,505.38 L914.18,506.55 L912.58,507.92 L911.09,509.47 L909.72,511.22 L908.45,513.17 L907.29,515.31 L906.24,517.65 L905.29,520.19 L904.42,522.92 L903.65,525.85 L902.97,528.98 L902.36,532.3 L901.82,535.84 L901.36,539.57 L900.95,543.52 L900.61,547.67 L900.31,552.03 L900.07,556.61 L899.86,561.4 L899.7,566.41 L899.56,571.64 L899.45,577.1Z" fill="#1e2430" stroke="#fff" stroke-opacity="0.45" stroke-width="0.5"/><path d="M941.75,577.1 L941.66,571.66 L941.6,566.46 L941.57,561.47 L941.58,556.71 L941.63,552.17 L941.72,547.85 L941.87,543.74 L942.07,539.85 L942.33,536.16 L942.66,532.68 L943.06,529.4 L943.54,526.32 L944.09,523.44 L944.73,520.76 L945.46,518.26 L946.29,515.95 L947.22,513.82 L948.25,511.86 L949.41,510.08 L950.68,508.46 L952.09,507 L953.63,505.71 L955.33,504.57 L957.18,503.59 L957.18,503.59 L955.24,504.4 L953.41,505.38 L951.71,506.55 L950.11,507.92 L948.64,509.47 L947.27,511.22 L946.01,513.17 L944.86,515.31 L943.81,517.65 L942.86,520.19 L942,522.92 L941.24,525.85 L940.55,528.98 L939.95,532.31 L939.41,535.84 L938.95,539.57 L938.55,543.52 L938.2,547.67 L937.91,552.03 L937.67,556.61 L937.46,561.4 L937.3,566.41 L937.16,571.64 L937.05,577.1Z" fill="#1e2430" stroke="#fff" stroke-opacity="0.45" stroke-width="0.5"/><path d="M979.55,577.1 L979.46,571.66 L979.4,566.46 L979.37,561.47 L979.38,556.71 L979.43,552.17 L979.53,547.85 L979.68,543.74 L979.88,539.85 L980.14,536.16 L980.47,532.68 L980.88,529.4 L981.35,526.32 L981.91,523.44 L982.56,520.76 L983.29,518.26 L984.13,515.95 L985.06,513.82 L986.1,511.86 L987.26,510.08 L988.54,508.46 L989.96,507 L991.51,505.71 L993.22,504.57 L995.08,503.6 L995.08,503.6 L993.13,504.4 L991.3,505.38 L989.58,506.55 L987.98,507.92 L986.49,509.47 L985.12,511.22 L983.85,513.17 L982.69,515.31 L981.64,517.65 L980.69,520.19 L979.82,522.92 L979.05,525.85 L978.37,528.98 L977.76,532.3 L977.22,535.84 L976.76,539.57 L976.35,543.52 L976.01,547.67 L975.71,552.03 L975.47,556.61 L975.26,561.4 L975.1,566.41 L974.96,571.64 L974.85,577.1Z" fill="#1e2430" stroke="#fff" stroke-opacity="0.45" stroke-width="0.5"/><path d="M874.35,579.5 L874.26,574.1 L874.2,568.92 L874.18,563.96 L874.19,559.23 L874.24,554.71 L874.34,550.41 L874.49,546.33 L874.7,542.45 L874.97,538.79 L875.31,535.33 L875.72,532.07 L876.21,529.01 L876.78,526.15 L877.43,523.48 L878.18,520.99 L879.03,518.7 L879.98,516.58 L881.04,514.63 L882.22,512.86 L883.53,511.25 L884.97,509.8 L886.55,508.51 L888.29,507.38 L890.19,506.41 L890.19,506.41 L888.2,507.21 L886.34,508.18 L884.6,509.34 L882.97,510.7 L881.46,512.24 L880.06,513.98 L878.78,515.92 L877.6,518.05 L876.53,520.37 L875.56,522.89 L874.69,525.61 L873.91,528.52 L873.21,531.63 L872.59,534.95 L872.05,538.46 L871.58,542.18 L871.17,546.1 L870.82,550.23 L870.52,554.57 L870.27,559.12 L870.07,563.89 L869.9,568.87 L869.76,574.07 L869.65,579.5Z" fill="#1e2430" stroke="#fff" stroke-opacity="0.45" stroke-width="0.5"/><path d="M1012.25,581.1 L1012.16,576.52 L1012.09,572.14 L1012.05,567.94 L1012.04,563.94 L1012.07,560.12 L1012.13,556.48 L1012.24,553.02 L1012.39,549.74 L1012.59,546.64 L1012.85,543.71 L1013.17,540.95 L1013.56,538.36 L1014.01,535.93 L1014.53,533.67 L1015.13,531.56 L1015.8,529.61 L1016.57,527.81 L1017.42,526.16 L1018.38,524.64 L1019.44,523.27 L1020.61,522.02 L1021.9,520.91 L1023.32,519.93 L1024.88,519.09 L1024.88,519.09 L1023.23,519.76 L1021.68,520.59 L1020.23,521.58 L1018.87,522.73 L1017.61,524.04 L1016.44,525.52 L1015.36,527.17 L1014.37,528.98 L1013.47,530.96 L1012.65,533.1 L1011.92,535.41 L1011.25,537.88 L1010.66,540.53 L1010.14,543.34 L1009.67,546.32 L1009.27,549.47 L1008.92,552.79 L1008.61,556.3 L1008.35,559.98 L1008.13,563.83 L1007.94,567.87 L1007.79,572.1 L1007.66,576.5 L1007.55,581.1Z" fill="#1e2430" stroke="#fff" stroke-opacity="0.45" stroke-width="0.5"/><path d="M896.15,585.9 L896.06,581.26 L896,576.82 L895.96,572.57 L895.95,568.51 L895.97,564.64 L896.04,560.95 L896.15,557.45 L896.3,554.13 L896.51,550.99 L896.78,548.02 L897.1,545.22 L897.49,542.6 L897.95,540.14 L898.48,537.85 L899.09,535.72 L899.77,533.74 L900.55,531.92 L901.42,530.24 L902.39,528.71 L903.46,527.32 L904.65,526.06 L905.96,524.93 L907.4,523.94 L908.98,523.09 L908.98,523.09 L907.31,523.77 L905.74,524.61 L904.27,525.61 L902.89,526.77 L901.62,528.11 L900.43,529.61 L899.34,531.27 L898.34,533.11 L897.43,535.11 L896.6,537.28 L895.86,539.62 L895.19,542.12 L894.59,544.8 L894.06,547.65 L893.59,550.67 L893.18,553.86 L892.83,557.23 L892.52,560.77 L892.25,564.5 L892.03,568.41 L891.84,572.5 L891.69,576.78 L891.56,581.24 L891.45,585.9Z" fill="#1e2430" stroke="#fff" stroke-opacity="0.45" stroke-width="0.5"/><path d="M883.85,587.5 L883.76,582.12 L883.7,576.97 L883.68,572.05 L883.68,567.34 L883.73,562.85 L883.83,558.57 L883.98,554.51 L884.18,550.66 L884.45,547.01 L884.79,543.57 L885.19,540.33 L885.67,537.29 L886.23,534.44 L886.88,531.78 L887.62,529.32 L888.46,527.03 L889.4,524.92 L890.45,522.99 L891.61,521.22 L892.9,519.62 L894.33,518.18 L895.9,516.9 L897.61,515.77 L899.49,514.81 L899.49,514.81 L897.52,515.6 L895.68,516.57 L893.95,517.73 L892.35,519.07 L890.85,520.61 L889.47,522.34 L888.2,524.26 L887.03,526.38 L885.97,528.7 L885.01,531.2 L884.15,533.91 L883.37,536.8 L882.68,539.9 L882.07,543.19 L881.53,546.69 L881.06,550.38 L880.66,554.28 L880.31,558.39 L880.02,562.7 L879.77,567.23 L879.56,571.97 L879.4,576.93 L879.26,582.1 L879.15,587.5Z" fill="#1e2430" stroke="#fff" stroke-opacity="0.45" stroke-width="0.5"/><path d="M997.05,587.5 L996.96,582.12 L996.9,576.97 L996.87,572.05 L996.88,567.34 L996.92,562.85 L997.01,558.57 L997.16,554.51 L997.35,550.65 L997.61,547.01 L997.93,543.56 L998.32,540.32 L998.79,537.28 L999.33,534.43 L999.96,531.77 L1000.67,529.3 L1001.48,527.02 L1002.4,524.91 L1003.41,522.97 L1004.54,521.21 L1005.79,519.61 L1007.17,518.17 L1008.69,516.88 L1010.36,515.76 L1012.18,514.79 L1012.18,514.79 L1010.27,515.59 L1008.47,516.56 L1006.79,517.72 L1005.23,519.07 L1003.77,520.61 L1002.42,522.34 L1001.18,524.27 L1000.05,526.39 L999.02,528.7 L998.08,531.21 L997.24,533.91 L996.48,536.81 L995.81,539.9 L995.21,543.2 L994.69,546.69 L994.23,550.38 L993.83,554.28 L993.49,558.39 L993.21,562.71 L992.96,567.23 L992.76,571.97 L992.59,576.93 L992.46,582.1 L992.35,587.5Z" fill="#1e2430" stroke="#fff" stroke-opacity="0.45" stroke-width="0.5"/><path d="M958.85,587.8 L958.76,582.4 L958.7,577.23 L958.67,572.28 L958.68,567.56 L958.73,563.05 L958.83,558.75 L958.97,554.67 L959.18,550.8 L959.44,547.14 L959.77,543.69 L960.18,540.43 L960.65,537.38 L961.21,534.52 L961.86,531.85 L962.59,529.37 L963.42,527.07 L964.36,524.96 L965.4,523.01 L966.56,521.24 L967.84,519.63 L969.26,518.19 L970.81,516.9 L972.52,515.77 L974.38,514.8 L974.38,514.8 L972.43,515.6 L970.6,516.57 L968.88,517.74 L967.28,519.09 L965.79,520.63 L964.42,522.37 L963.15,524.3 L962,526.43 L960.94,528.76 L959.99,531.27 L959.13,533.99 L958.35,536.9 L957.67,540 L957.06,543.31 L956.52,546.82 L956.06,550.53 L955.65,554.45 L955.31,558.57 L955.01,562.9 L954.77,567.45 L954.56,572.21 L954.4,577.19 L954.26,582.38 L954.15,587.8Z" fill="#1e2430" stroke="#fff" stroke-opacity="0.45" stroke-width="0.5"/><path d="M1019.35,587.8 L1019.26,583.2 L1019.2,578.8 L1019.16,574.58 L1019.15,570.55 L1019.18,566.71 L1019.25,563.06 L1019.36,559.58 L1019.52,556.29 L1019.74,553.17 L1020.01,550.23 L1020.34,547.46 L1020.74,544.86 L1021.21,542.42 L1021.75,540.15 L1022.37,538.03 L1023.08,536.07 L1023.87,534.26 L1024.76,532.6 L1025.75,531.08 L1026.85,529.7 L1028.06,528.45 L1029.4,527.33 L1030.87,526.35 L1032.48,525.5 L1032.48,525.5 L1030.78,526.18 L1029.19,527.01 L1027.69,528 L1026.29,529.15 L1024.99,530.47 L1023.78,531.95 L1022.67,533.61 L1021.65,535.43 L1020.72,537.41 L1019.88,539.56 L1019.12,541.88 L1018.44,544.37 L1017.83,547.02 L1017.29,549.85 L1016.82,552.84 L1016.4,556.01 L1016.04,559.35 L1015.73,562.87 L1015.46,566.57 L1015.24,570.45 L1015.05,574.51 L1014.89,578.75 L1014.76,583.18 L1014.65,587.8Z" fill="#1e2430" stroke="#fff" stroke-opacity="0.45" stroke-width="0.5"/><path d="M933.35,589 L933.26,584.43 L933.19,580.05 L933.15,575.86 L933.13,571.86 L933.15,568.05 L933.2,564.41 L933.3,560.96 L933.44,557.68 L933.63,554.58 L933.87,551.65 L934.16,548.9 L934.52,546.31 L934.94,543.89 L935.43,541.63 L935.99,539.52 L936.63,537.57 L937.34,535.77 L938.15,534.12 L939.04,532.61 L940.04,531.24 L941.14,529.99 L942.36,528.88 L943.7,527.9 L945.16,527.05 L945.16,527.05 L943.6,527.73 L942.13,528.57 L940.75,529.56 L939.46,530.71 L938.26,532.03 L937.14,533.51 L936.12,535.16 L935.18,536.97 L934.32,538.95 L933.55,541.09 L932.84,543.39 L932.21,545.86 L931.65,548.5 L931.15,551.3 L930.7,554.28 L930.32,557.43 L929.98,560.75 L929.68,564.24 L929.43,567.91 L929.22,571.76 L929.04,575.8 L928.88,580.01 L928.76,584.41 L928.65,589Z" fill="#1e2430" stroke="#fff" stroke-opacity="0.45" stroke-width="0.5"/><path d="M988.35,590.7 L988.26,586.21 L988.19,581.9 L988.15,577.78 L988.13,573.84 L988.15,570.09 L988.2,566.52 L988.3,563.12 L988.44,559.9 L988.63,556.85 L988.87,553.97 L989.16,551.26 L989.52,548.71 L989.94,546.33 L990.43,544.11 L990.99,542.04 L991.62,540.12 L992.34,538.35 L993.15,536.73 L994.04,535.24 L995.04,533.88 L996.14,532.66 L997.36,531.57 L998.7,530.6 L1000.17,529.76 L1000.17,529.76 L998.6,530.43 L997.13,531.25 L995.75,532.22 L994.46,533.35 L993.26,534.65 L992.15,536.11 L991.12,537.73 L990.18,539.51 L989.33,541.45 L988.55,543.56 L987.84,545.83 L987.21,548.26 L986.65,550.85 L986.15,553.61 L985.71,556.54 L985.32,559.64 L984.98,562.9 L984.68,566.34 L984.43,569.95 L984.22,573.74 L984.04,577.71 L983.88,581.86 L983.76,586.19 L983.65,590.7Z" fill="#1e2430" stroke="#fff" stroke-opacity="0.45" stroke-width="0.5"/><path d="M1002.65,590.7 L1002.56,585.32 L1002.5,580.17 L1002.47,575.25 L1002.48,570.54 L1002.53,566.05 L1002.62,561.77 L1002.77,557.71 L1002.97,553.86 L1003.23,550.21 L1003.56,546.77 L1003.96,543.53 L1004.44,540.49 L1004.99,537.64 L1005.63,534.98 L1006.36,532.51 L1007.19,530.22 L1008.12,528.12 L1009.15,526.18 L1010.3,524.42 L1011.58,522.81 L1012.99,521.37 L1014.53,520.09 L1016.23,518.97 L1018.08,518 L1018.08,518 L1016.14,518.79 L1014.32,519.77 L1012.61,520.92 L1011.02,522.27 L1009.54,523.81 L1008.17,525.54 L1006.91,527.47 L1005.76,529.58 L1004.71,531.9 L1003.76,534.41 L1002.9,537.11 L1002.14,540.01 L1001.45,543.1 L1000.85,546.39 L1000.32,549.89 L999.85,553.58 L999.45,557.48 L999.1,561.59 L998.81,565.91 L998.57,570.43 L998.36,575.17 L998.2,580.13 L998.06,585.3 L997.95,590.7Z" fill="#1e2430" stroke="#fff" stroke-opacity="0.45" stroke-width="0.5"/><path d="M921.65,591.5 L921.56,586.11 L921.5,580.94 L921.47,576 L921.48,571.28 L921.52,566.78 L921.61,562.49 L921.76,558.42 L921.95,554.55 L922.21,550.89 L922.53,547.44 L922.92,544.19 L923.39,541.14 L923.93,538.28 L924.56,535.62 L925.27,533.14 L926.09,530.85 L927,528.73 L928.01,526.79 L929.14,525.02 L930.39,523.42 L931.77,521.97 L933.29,520.69 L934.96,519.56 L936.78,518.59 L936.78,518.59 L934.87,519.39 L933.07,520.36 L931.39,521.53 L929.83,522.88 L928.37,524.42 L927.02,526.16 L925.78,528.09 L924.65,530.22 L923.62,532.54 L922.68,535.05 L921.84,537.76 L921.08,540.67 L920.41,543.77 L919.81,547.07 L919.29,550.58 L918.83,554.28 L918.43,558.19 L918.09,562.31 L917.81,566.64 L917.56,571.18 L917.36,575.93 L917.19,580.9 L917.06,586.09 L916.95,591.5Z" fill="#1e2430" stroke="#fff" stroke-opacity="0.45" stroke-width="0.5"/><path d="M973.15,594.6 L973.06,590 L973,585.6 L972.96,581.38 L972.95,577.35 L972.97,573.51 L973.03,569.86 L973.14,566.38 L973.3,563.09 L973.5,559.97 L973.77,557.02 L974.09,554.25 L974.47,551.65 L974.93,549.21 L975.45,546.94 L976.06,544.82 L976.74,542.86 L977.51,541.05 L978.37,539.39 L979.33,537.87 L980.4,536.49 L981.58,535.24 L982.88,534.12 L984.31,533.14 L985.88,532.29 L985.88,532.29 L984.22,532.97 L982.66,533.8 L981.2,534.79 L979.83,535.95 L978.56,537.27 L977.38,538.75 L976.3,540.41 L975.31,542.23 L974.4,544.21 L973.58,546.37 L972.84,548.69 L972.17,551.17 L971.58,553.83 L971.05,556.65 L970.58,559.65 L970.18,562.81 L969.82,566.16 L969.51,569.68 L969.25,573.37 L969.03,577.25 L968.84,581.31 L968.69,585.55 L968.56,589.98 L968.45,594.6Z" fill="#1e2430" stroke="#fff" stroke-opacity="0.45" stroke-width="0.5"/><path d="M909.35,595.1 L909.26,590.49 L909.2,586.08 L909.16,581.86 L909.16,577.83 L909.19,573.98 L909.26,570.32 L909.38,566.84 L909.55,563.54 L909.77,560.42 L910.05,557.47 L910.4,554.7 L910.81,552.09 L911.29,549.65 L911.85,547.38 L912.49,545.26 L913.22,543.3 L914.03,541.49 L914.95,539.82 L915.97,538.3 L917.1,536.92 L918.35,535.67 L919.72,534.55 L921.24,533.57 L922.89,532.72 L922.89,532.72 L921.15,533.39 L919.51,534.22 L917.98,535.21 L916.54,536.36 L915.21,537.68 L913.98,539.16 L912.84,540.82 L911.8,542.64 L910.85,544.63 L909.99,546.78 L909.21,549.1 L908.51,551.6 L907.89,554.25 L907.34,557.08 L906.85,560.08 L906.43,563.26 L906.06,566.61 L905.74,570.13 L905.47,573.83 L905.24,577.72 L905.05,581.78 L904.89,586.04 L904.76,590.47 L904.65,595.1Z" fill="#1e2430" stroke="#fff" stroke-opacity="0.45" stroke-width="0.5"/><path d="M947.95,595.1 L947.86,589.68 L947.8,584.49 L947.77,579.52 L947.78,574.77 L947.83,570.24 L947.93,565.93 L948.08,561.83 L948.28,557.95 L948.54,554.27 L948.87,550.8 L949.28,547.53 L949.75,544.47 L950.31,541.59 L950.96,538.91 L951.69,536.42 L952.52,534.12 L953.46,531.99 L954.5,530.04 L955.66,528.26 L956.94,526.65 L958.36,525.2 L959.91,523.9 L961.62,522.77 L963.48,521.8 L963.48,521.8 L961.53,522.6 L959.7,523.58 L957.98,524.75 L956.38,526.1 L954.89,527.66 L953.52,529.4 L952.25,531.34 L951.09,533.48 L950.04,535.81 L949.09,538.34 L948.22,541.07 L947.45,543.99 L946.77,547.11 L946.16,550.43 L945.62,553.95 L945.16,557.68 L944.75,561.61 L944.41,565.75 L944.11,570.1 L943.87,574.66 L943.66,579.44 L943.5,584.44 L943.36,589.66 L943.25,595.1Z" fill="#1e2430" stroke="#fff" stroke-opacity="0.45" stroke-width="0.5"/><rect x="151.4" y="702.2" width="274.1" height="5.6" fill="url(#tl0)"/><rect x="425.5" y="702.2" width="274.5" height="5.6" fill="url(#tl1)"/><rect x="700" y="702.2" width="274.5" height="5.6" fill="url(#tl2)"/><circle cx="151.4" cy="705" r="18.7" fill="#fff" stroke="#d63a33" stroke-width="9.8"/><circle cx="425.5" cy="705" r="18.7" fill="#fff" stroke="#fb7a26" stroke-width="9.8"/><circle cx="700" cy="705" r="18.7" fill="#fff" stroke="#fdb913" stroke-width="9.8"/><circle cx="974.5" cy="705" r="18.7" fill="#fff" stroke="#74c83e" stroke-width="9.8"/></svg>
<svg width="1129" height="764" viewBox="0 0 1129 764" style="position:absolute;left:0;top:0;will-change:transform" font-family="Liberation Sans, sans-serif"><text x="410.64" y="72.6" font-size="64.5" font-weight="bold" fill="#333333" textLength="77.42" lengthAdjust="spacingAndGlyphs">FUE</text><text x="500.76" y="72.6" font-size="64.5" font-weight="bold" fill="#333333" textLength="218.3" lengthAdjust="spacingAndGlyphs">procedure</text><text x="75.14" y="367.4" font-size="45" font-weight="normal" fill="#151515" textLength="80.5" lengthAdjust="spacingAndGlyphs" stroke="#fff" stroke-width="0.25" paint-order="normal">Punch</text><text x="163.18" y="367.4" font-size="45" font-weight="normal" fill="#151515" textLength="99.34" lengthAdjust="spacingAndGlyphs" stroke="#fff" stroke-width="0.25" paint-order="normal">Incision</text><text x="36.04" y="413" font-size="45" font-weight="normal" fill="#151515" textLength="91.02" lengthAdjust="spacingAndGlyphs" stroke="#fff" stroke-width="0.25" paint-order="normal">Around</text><text x="135.14" y="413" font-size="45" font-weight="normal" fill="#151515" textLength="55.16" lengthAdjust="spacingAndGlyphs" stroke="#fff" stroke-width="0.25" paint-order="normal">Hair</text><text x="199.06" y="413" font-size="45" font-weight="normal" fill="#151515" textLength="103.2" lengthAdjust="spacingAndGlyphs" stroke="#fff" stroke-width="0.25" paint-order="normal">Follicles</text><text x="347.02" y="367.4" font-size="45" font-weight="normal" fill="#151515" textLength="130.46" lengthAdjust="spacingAndGlyphs" stroke="#fff" stroke-width="0.25" paint-order="normal">Extraction</text><text x="484.9" y="367.4" font-size="45" font-weight="normal" fill="#151515" textLength="25.52" lengthAdjust="spacingAndGlyphs" stroke="#fff" stroke-width="0.25" paint-order="normal">of</text><text x="331.64" y="413" font-size="45" font-weight="normal" fill="#151515" textLength="117.74" lengthAdjust="spacingAndGlyphs" stroke="#fff" stroke-width="0.25" paint-order="normal">Follicular</text><text x="457.1" y="413" font-size="45" font-weight="normal" fill="#151515" textLength="68.66" lengthAdjust="spacingAndGlyphs" stroke="#fff" stroke-width="0.25" paint-order="normal">Units</text><text x="601.18" y="367.4" font-size="45" font-weight="normal" fill="#151515" textLength="142.38" lengthAdjust="spacingAndGlyphs" stroke="#fff" stroke-width="0.25" paint-order="normal">Harvesting</text><text x="750.36" y="367.4" font-size="45" font-weight="normal" fill="#151515" textLength="24.64" lengthAdjust="spacingAndGlyphs" stroke="#fff" stroke-width="0.25" paint-order="normal">of</text><text x="620.24" y="413" font-size="45" font-weight="normal" fill="#151515" textLength="46.44" lengthAdjust="spacingAndGlyphs" stroke="#fff" stroke-width="0.25" paint-order="normal">The</text><text x="675.94" y="413" font-size="45" font-weight="normal" fill="#151515" textLength="79.86" lengthAdjust="spacingAndGlyphs" stroke="#fff" stroke-width="0.25" paint-order="normal">Grafts</text><text x="850.6" y="367.4" font-size="45" font-weight="normal" fill="#151515" textLength="162.84" lengthAdjust="spacingAndGlyphs" stroke="#fff" stroke-width="0.25" paint-order="normal">Implantation</text><text x="1020.36" y="367.4" font-size="45" font-weight="normal" fill="#151515" textLength="24.76" lengthAdjust="spacingAndGlyphs" stroke="#fff" stroke-width="0.25" paint-order="normal">of</text><text x="880.24" y="413" font-size="45" font-weight="normal" fill="#151515" textLength="45.52" lengthAdjust="spacingAndGlyphs" stroke="#fff" stroke-width="0.25" paint-order="normal">The</text><text x="934.4" y="413" font-size="45" font-weight="normal" fill="#151515" textLength="81.36" lengthAdjust="spacingAndGlyphs" stroke="#fff" stroke-width="0.25" paint-order="normal">Grafts</text></svg>
<div class="frame"></div>
</body></html>
